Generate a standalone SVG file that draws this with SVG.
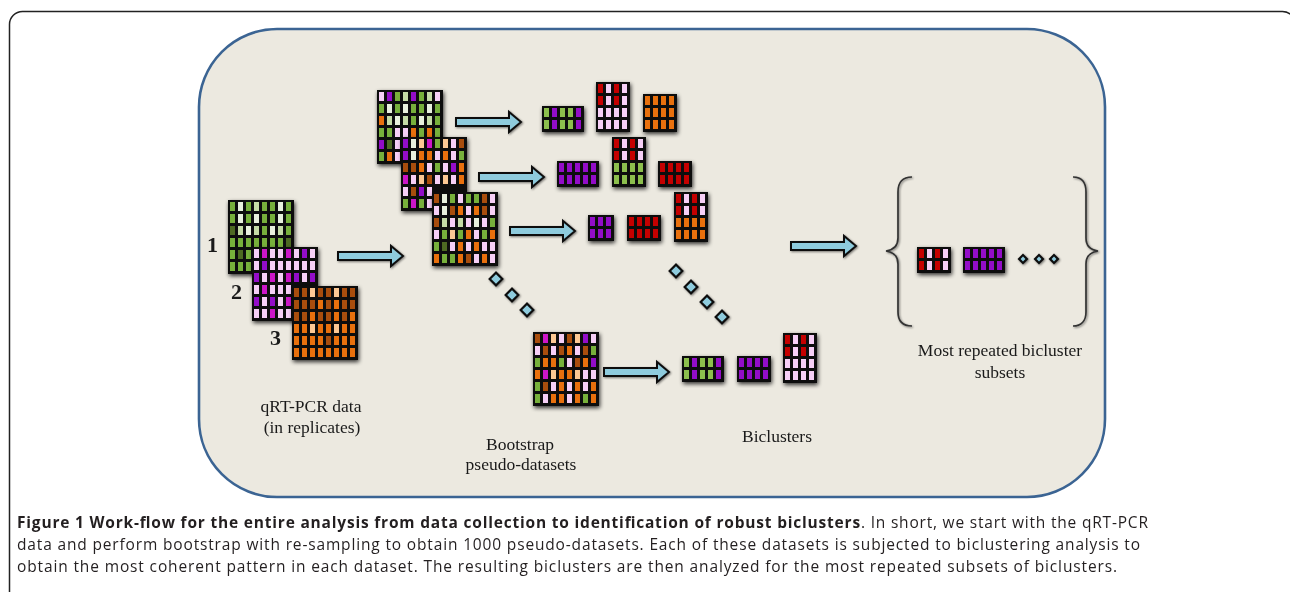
<svg xmlns="http://www.w3.org/2000/svg" xmlns:xlink="http://www.w3.org/1999/xlink" width="1290" height="592" viewBox="0 0 1290 592">
<style>
.bg{fill:#111}
.lbl{font-family:"Liberation Serif","Times New Roman",serif;font-size:17.5px;fill:#1a1a1a;text-anchor:middle}
.num{font-family:"Liberation Serif","Times New Roman",serif;font-size:22px;font-weight:bold;fill:#1a1a1a}
.cap{font-family:"Open Sans","Liberation Sans",sans-serif;font-size:15.5px;fill:#231f20}
.arr{fill:#8ecbdd;stroke:#111;stroke-width:2}
.brace{fill:none;stroke:#333;stroke-width:1.7}
.dm{fill:#8ecbdd;stroke:#111;stroke-width:2.2}
</style>
<defs>
<filter id="sh" x="-20%" y="-20%" width="140%" height="140%">
<feGaussianBlur in="SourceAlpha" stdDeviation="2"/>
<feOffset dx="1" dy="1.5"/>
<feComponentTransfer><feFuncA type="linear" slope="0.8"/></feComponentTransfer>
<feMerge><feMergeNode/><feMergeNode in="SourceGraphic"/></feMerge>
</filter>
<filter id="sh2" x="-30%" y="-30%" width="160%" height="160%">
<feGaussianBlur in="SourceAlpha" stdDeviation="1.2"/>
<feOffset dx="1" dy="1"/>
<feComponentTransfer><feFuncA type="linear" slope="0.5"/></feComponentTransfer>
<feMerge><feMergeNode/><feMergeNode in="SourceGraphic"/></feMerge>
</filter>
<rect id="g" width="5" height="9" fill="#77b03a"/>
<rect id="w" width="5" height="9" fill="#e8f0dc"/>
<rect id="l" width="5" height="9" fill="#c5dca6"/>
<rect id="d" width="5" height="9" fill="#4d6b22"/>
<rect id="h" width="5" height="9" fill="#8cbf4e"/>
<rect id="p" width="5" height="9" fill="#f6cff6"/>
<rect id="m" width="5" height="9" fill="#cc14c8"/>
<rect id="u" width="5" height="9" fill="#9308c8"/>
<rect id="b" width="5" height="9" fill="#a84d0a"/>
<rect id="o" width="5" height="9" fill="#e8700e"/>
<rect id="e" width="5" height="9" fill="#fcc894"/>
<rect id="r" width="5" height="9" fill="#c40000"/>
<path id="arr" d="M0,-4 H53 V-10 L65,0 L53,10 V4 H0 Z"/>
<rect id="dia" x="-4.5" y="-4.5" width="9" height="9" transform="rotate(45)"/>
<rect id="dot" x="-2.8" y="-2.8" width="5.6" height="5.6" transform="rotate(45)"/>
</defs>

<rect x="9.5" y="11.5" width="1286" height="640" rx="13" fill="#fff" stroke="#222" stroke-width="1.5"/>
<rect id="panel" x="199" y="29" width="906" height="468" rx="78" fill="#ece9e0" stroke="#3b6493" stroke-width="2.6"/>

<!-- qRT-PCR replicate matrices -->
<g id="m1" filter="url(#sh)" transform="translate(228,200)">
<rect class="bg" width="66" height="74"/>
<use href="#g" x="2" y="2"/><use href="#w" x="10" y="2"/><use href="#g" x="18" y="2"/><use href="#l" x="26" y="2"/><use href="#g" x="34" y="2"/><use href="#g" x="42" y="2"/><use href="#w" x="50" y="2"/><use href="#g" x="58" y="2"/>
<use href="#g" x="2" y="14"/><use href="#w" x="10" y="14"/><use href="#g" x="18" y="14"/><use href="#w" x="26" y="14"/><use href="#g" x="34" y="14"/><use href="#g" x="42" y="14"/><use href="#w" x="50" y="14"/><use href="#g" x="58" y="14"/>
<use href="#d" x="2" y="26"/><use href="#l" x="10" y="26"/><use href="#w" x="18" y="26"/><use href="#l" x="26" y="26"/><use href="#g" x="34" y="26"/><use href="#w" x="42" y="26"/><use href="#l" x="50" y="26"/><use href="#g" x="58" y="26"/>
<use href="#g" x="2" y="38"/><use href="#g" x="10" y="38"/><use href="#g" x="18" y="38"/><use href="#g" x="26" y="38"/><use href="#g" x="34" y="38"/><use href="#g" x="42" y="38"/><use href="#g" x="50" y="38"/><use href="#d" x="58" y="38"/>
<use href="#g" x="2" y="50"/><use href="#d" x="10" y="50"/><use href="#g" x="18" y="50"/>
<use href="#g" x="2" y="62"/><use href="#g" x="10" y="62"/><use href="#g" x="18" y="62"/>
</g>
<g id="m2" filter="url(#sh)" transform="translate(252,247)">
<rect class="bg" width="66" height="74"/>
<use href="#p" x="2" y="2"/><use href="#m" x="10" y="2"/><use href="#p" x="18" y="2"/><use href="#p" x="26" y="2"/><use href="#m" x="34" y="2"/><use href="#p" x="42" y="2"/><use href="#u" x="50" y="2"/><use href="#p" x="58" y="2"/>
<use href="#p" x="2" y="14"/><use href="#u" x="10" y="14"/><use href="#p" x="18" y="14"/><use href="#p" x="26" y="14"/><use href="#p" x="34" y="14"/><use href="#p" x="42" y="14"/><use href="#p" x="50" y="14"/><use href="#p" x="58" y="14"/>
<use href="#u" x="2" y="26"/><use href="#p" x="10" y="26"/><use href="#m" x="18" y="26"/><use href="#p" x="26" y="26"/><use href="#m" x="34" y="26"/><use href="#u" x="42" y="26"/><use href="#p" x="50" y="26"/><use href="#u" x="58" y="26"/>
<use href="#p" x="2" y="38"/><use href="#m" x="10" y="38"/><use href="#p" x="18" y="38"/><use href="#p" x="26" y="38"/><use href="#p" x="34" y="38"/>
<use href="#u" x="2" y="50"/><use href="#p" x="10" y="50"/><use href="#u" x="18" y="50"/><use href="#p" x="26" y="50"/><use href="#m" x="34" y="50"/>
<use href="#p" x="2" y="62"/><use href="#p" x="10" y="62"/><use href="#m" x="18" y="62"/><use href="#p" x="26" y="62"/><use href="#p" x="34" y="62"/>
</g>
<g id="m3" filter="url(#sh)" transform="translate(292,286)">
<rect class="bg" width="66" height="74"/>
<use href="#b" x="2" y="2"/><use href="#b" x="10" y="2"/><use href="#e" x="18" y="2"/><use href="#b" x="26" y="2"/><use href="#b" x="34" y="2"/><use href="#e" x="42" y="2"/><use href="#b" x="50" y="2"/><use href="#b" x="58" y="2"/>
<use href="#b" x="2" y="14"/><use href="#b" x="10" y="14"/><use href="#b" x="18" y="14"/><use href="#o" x="26" y="14"/><use href="#b" x="34" y="14"/><use href="#o" x="42" y="14"/><use href="#b" x="50" y="14"/><use href="#b" x="58" y="14"/>
<use href="#b" x="2" y="26"/><use href="#b" x="10" y="26"/><use href="#o" x="18" y="26"/><use href="#b" x="26" y="26"/><use href="#b" x="34" y="26"/><use href="#o" x="42" y="26"/><use href="#b" x="50" y="26"/><use href="#o" x="58" y="26"/>
<use href="#o" x="2" y="38"/><use href="#o" x="10" y="38"/><use href="#e" x="18" y="38"/><use href="#o" x="26" y="38"/><use href="#o" x="34" y="38"/><use href="#e" x="42" y="38"/><use href="#o" x="50" y="38"/><use href="#o" x="58" y="38"/>
<use href="#o" x="2" y="50"/><use href="#o" x="10" y="50"/><use href="#o" x="18" y="50"/><use href="#o" x="26" y="50"/><use href="#b" x="34" y="50"/><use href="#o" x="42" y="50"/><use href="#o" x="50" y="50"/><use href="#o" x="58" y="50"/>
<use href="#o" x="2" y="62"/><use href="#o" x="10" y="62"/><use href="#o" x="18" y="62"/><use href="#o" x="26" y="62"/><use href="#o" x="34" y="62"/><use href="#o" x="42" y="62"/><use href="#o" x="50" y="62"/><use href="#o" x="58" y="62"/>
</g>

<!-- bootstrap pseudo-datasets -->
<g id="b1" filter="url(#sh)" transform="translate(377,90)">
<rect class="bg" width="66" height="74"/>
<use href="#p" x="2" y="2"/><use href="#u" x="10" y="2"/><use href="#g" x="18" y="2"/><use href="#l" x="26" y="2"/><use href="#u" x="34" y="2"/><use href="#g" x="42" y="2"/><use href="#l" x="50" y="2"/><use href="#p" x="58" y="2"/>
<use href="#g" x="2" y="14"/><use href="#w" x="10" y="14"/><use href="#g" x="18" y="14"/><use href="#w" x="26" y="14"/><use href="#g" x="34" y="14"/><use href="#g" x="42" y="14"/><use href="#w" x="50" y="14"/><use href="#g" x="58" y="14"/>
<use href="#o" x="2" y="26"/><use href="#l" x="10" y="26"/><use href="#w" x="18" y="26"/><use href="#l" x="26" y="26"/><use href="#g" x="34" y="26"/><use href="#w" x="42" y="26"/><use href="#l" x="50" y="26"/><use href="#g" x="58" y="26"/>
<use href="#g" x="2" y="38"/><use href="#g" x="10" y="38"/><use href="#p" x="18" y="38"/><use href="#p" x="26" y="38"/><use href="#o" x="34" y="38"/><use href="#g" x="42" y="38"/><use href="#o" x="50" y="38"/><use href="#g" x="58" y="38"/>
<use href="#u" x="2" y="50"/><use href="#d" x="10" y="50"/><use href="#p" x="18" y="50"/>
<use href="#g" x="2" y="62"/><use href="#o" x="10" y="62"/><use href="#p" x="18" y="62"/>
</g>
<g id="b2" filter="url(#sh)" transform="translate(401,137)">
<rect class="bg" width="66" height="74"/>
<use href="#u" x="2" y="2"/><use href="#w" x="10" y="2"/><use href="#e" x="18" y="2"/><use href="#m" x="26" y="2"/><use href="#g" x="34" y="2"/><use href="#e" x="42" y="2"/><use href="#p" x="50" y="2"/><use href="#b" x="58" y="2"/>
<use href="#u" x="2" y="14"/><use href="#w" x="10" y="14"/><use href="#o" x="18" y="14"/><use href="#o" x="26" y="14"/><use href="#p" x="34" y="14"/><use href="#o" x="42" y="14"/><use href="#p" x="50" y="14"/><use href="#g" x="58" y="14"/>
<use href="#b" x="2" y="26"/><use href="#b" x="10" y="26"/><use href="#o" x="18" y="26"/><use href="#p" x="26" y="26"/><use href="#g" x="34" y="26"/><use href="#p" x="42" y="26"/><use href="#u" x="50" y="26"/><use href="#o" x="58" y="26"/>
<use href="#m" x="2" y="38"/><use href="#p" x="10" y="38"/><use href="#e" x="18" y="38"/><use href="#b" x="26" y="38"/><use href="#p" x="34" y="38"/><use href="#e" x="42" y="38"/><use href="#p" x="50" y="38"/><use href="#o" x="58" y="38"/>
<use href="#p" x="2" y="50"/><use href="#b" x="10" y="50"/><use href="#u" x="18" y="50"/><use href="#p" x="26" y="50"/>
<use href="#g" x="2" y="62"/><use href="#m" x="10" y="62"/><use href="#g" x="18" y="62"/><use href="#p" x="26" y="62"/>
</g>
<g id="b3" filter="url(#sh)" transform="translate(432,192)">
<rect class="bg" width="66" height="74"/>
<use href="#b" x="2" y="2"/><use href="#w" x="10" y="2"/><use href="#g" x="18" y="2"/><use href="#p" x="26" y="2"/><use href="#g" x="34" y="2"/><use href="#g" x="42" y="2"/><use href="#b" x="50" y="2"/><use href="#p" x="58" y="2"/>
<use href="#p" x="2" y="14"/><use href="#w" x="10" y="14"/><use href="#b" x="18" y="14"/><use href="#o" x="26" y="14"/><use href="#p" x="34" y="14"/><use href="#o" x="42" y="14"/><use href="#b" x="50" y="14"/><use href="#p" x="58" y="14"/>
<use href="#b" x="2" y="26"/><use href="#l" x="10" y="26"/><use href="#p" x="18" y="26"/><use href="#l" x="26" y="26"/><use href="#p" x="34" y="26"/><use href="#w" x="42" y="26"/><use href="#p" x="50" y="26"/><use href="#g" x="58" y="26"/>
<use href="#p" x="2" y="38"/><use href="#g" x="10" y="38"/><use href="#e" x="18" y="38"/><use href="#g" x="26" y="38"/><use href="#o" x="34" y="38"/><use href="#p" x="42" y="38"/><use href="#g" x="50" y="38"/><use href="#o" x="58" y="38"/>
<use href="#g" x="2" y="50"/><use href="#d" x="10" y="50"/><use href="#p" x="18" y="50"/><use href="#o" x="26" y="50"/><use href="#p" x="34" y="50"/><use href="#o" x="42" y="50"/><use href="#p" x="50" y="50"/><use href="#p" x="58" y="50"/>
<use href="#o" x="2" y="62"/><use href="#g" x="10" y="62"/><use href="#g" x="18" y="62"/><use href="#o" x="26" y="62"/><use href="#b" x="34" y="62"/><use href="#p" x="42" y="62"/><use href="#o" x="50" y="62"/><use href="#p" x="58" y="62"/>
</g>
<g id="b4" filter="url(#sh)" transform="translate(533,332)">
<rect class="bg" width="66" height="74"/>
<use href="#b" x="2" y="2"/><use href="#m" x="10" y="2"/><use href="#e" x="18" y="2"/><use href="#p" x="26" y="2"/><use href="#b" x="34" y="2"/><use href="#e" x="42" y="2"/><use href="#u" x="50" y="2"/><use href="#p" x="58" y="2"/>
<use href="#p" x="2" y="14"/><use href="#b" x="10" y="14"/><use href="#p" x="18" y="14"/><use href="#b" x="26" y="14"/><use href="#o" x="34" y="14"/><use href="#p" x="42" y="14"/><use href="#b" x="50" y="14"/><use href="#g" x="58" y="14"/>
<use href="#g" x="2" y="26"/><use href="#o" x="10" y="26"/><use href="#o" x="18" y="26"/><use href="#g" x="26" y="26"/><use href="#p" x="34" y="26"/><use href="#b" x="42" y="26"/><use href="#o" x="50" y="26"/><use href="#u" x="58" y="26"/>
<use href="#o" x="2" y="38"/><use href="#m" x="10" y="38"/><use href="#e" x="18" y="38"/><use href="#o" x="26" y="38"/><use href="#o" x="34" y="38"/><use href="#e" x="42" y="38"/><use href="#p" x="50" y="38"/><use href="#p" x="58" y="38"/>
<use href="#g" x="2" y="50"/><use href="#b" x="10" y="50"/><use href="#p" x="18" y="50"/><use href="#o" x="26" y="50"/><use href="#p" x="34" y="50"/><use href="#o" x="42" y="50"/><use href="#p" x="50" y="50"/><use href="#o" x="58" y="50"/>
<use href="#g" x="2" y="62"/><use href="#p" x="10" y="62"/><use href="#o" x="18" y="62"/><use href="#o" x="26" y="62"/><use href="#p" x="34" y="62"/><use href="#o" x="42" y="62"/><use href="#g" x="50" y="62"/><use href="#o" x="58" y="62"/>
</g>

<!-- biclusters -->
<g id="bc1a" filter="url(#sh)" transform="translate(542,106)">
<rect class="bg" width="42" height="26"/>
<use href="#h" x="2" y="2"/><use href="#u" x="10" y="2"/><use href="#h" x="18" y="2"/><use href="#h" x="26" y="2"/><use href="#u" x="34" y="2"/>
<use href="#h" x="2" y="14"/><use href="#u" x="10" y="14"/><use href="#h" x="18" y="14"/><use href="#h" x="26" y="14"/><use href="#u" x="34" y="14"/>
</g>
<g id="bc1b" filter="url(#sh)" transform="translate(596,82)">
<rect class="bg" width="34" height="50"/>
<use href="#r" x="2" y="2"/><use href="#p" x="10" y="2"/><use href="#r" x="18" y="2"/><use href="#p" x="26" y="2"/>
<use href="#r" x="2" y="14"/><use href="#p" x="10" y="14"/><use href="#r" x="18" y="14"/><use href="#p" x="26" y="14"/>
<use href="#p" x="2" y="26"/><use href="#p" x="10" y="26"/><use href="#p" x="18" y="26"/><use href="#p" x="26" y="26"/>
<use href="#p" x="2" y="38"/><use href="#p" x="10" y="38"/><use href="#p" x="18" y="38"/><use href="#p" x="26" y="38"/>
</g>
<g id="bc1c" filter="url(#sh)" transform="translate(643,94)">
<rect class="bg" width="34" height="38"/>
<use href="#o" x="2" y="2"/><use href="#o" x="10" y="2"/><use href="#o" x="18" y="2"/><use href="#o" x="26" y="2"/>
<use href="#o" x="2" y="14"/><use href="#o" x="10" y="14"/><use href="#o" x="18" y="14"/><use href="#o" x="26" y="14"/>
<use href="#o" x="2" y="26"/><use href="#o" x="10" y="26"/><use href="#o" x="18" y="26"/><use href="#o" x="26" y="26"/>
</g>
<g id="bc2a" filter="url(#sh)" transform="translate(557,161)">
<rect class="bg" width="42" height="26"/>
<use href="#u" x="2" y="2"/><use href="#u" x="10" y="2"/><use href="#u" x="18" y="2"/><use href="#u" x="26" y="2"/><use href="#u" x="34" y="2"/>
<use href="#u" x="2" y="14"/><use href="#u" x="10" y="14"/><use href="#u" x="18" y="14"/><use href="#u" x="26" y="14"/><use href="#u" x="34" y="14"/>
</g>
<g id="bc2b" filter="url(#sh)" transform="translate(612,137)">
<rect class="bg" width="34" height="50"/>
<use href="#r" x="2" y="2"/><use href="#p" x="10" y="2"/><use href="#r" x="18" y="2"/><use href="#p" x="26" y="2"/>
<use href="#r" x="2" y="14"/><use href="#p" x="10" y="14"/><use href="#r" x="18" y="14"/><use href="#p" x="26" y="14"/>
<use href="#h" x="2" y="26"/><use href="#h" x="10" y="26"/><use href="#h" x="18" y="26"/><use href="#h" x="26" y="26"/>
<use href="#h" x="2" y="38"/><use href="#h" x="10" y="38"/><use href="#h" x="18" y="38"/><use href="#h" x="26" y="38"/>
</g>
<g id="bc2c" filter="url(#sh)" transform="translate(658,161)">
<rect class="bg" width="34" height="26"/>
<use href="#r" x="2" y="2"/><use href="#r" x="10" y="2"/><use href="#r" x="18" y="2"/><use href="#r" x="26" y="2"/>
<use href="#r" x="2" y="14"/><use href="#r" x="10" y="14"/><use href="#r" x="18" y="14"/><use href="#r" x="26" y="14"/>
</g>
<g id="bc3a" filter="url(#sh)" transform="translate(588,215)">
<rect class="bg" width="26" height="26"/>
<use href="#u" x="2" y="2"/><use href="#u" x="10" y="2"/><use href="#u" x="18" y="2"/>
<use href="#u" x="2" y="14"/><use href="#u" x="10" y="14"/><use href="#u" x="18" y="14"/>
</g>
<g id="bc3b" filter="url(#sh)" transform="translate(627,215)">
<rect class="bg" width="34" height="26"/>
<use href="#r" x="2" y="2"/><use href="#r" x="10" y="2"/><use href="#r" x="18" y="2"/><use href="#r" x="26" y="2"/>
<use href="#r" x="2" y="14"/><use href="#r" x="10" y="14"/><use href="#r" x="18" y="14"/><use href="#r" x="26" y="14"/>
</g>
<g id="bc3c" filter="url(#sh)" transform="translate(674,192)">
<rect class="bg" width="34" height="50"/>
<use href="#r" x="2" y="2"/><use href="#p" x="10" y="2"/><use href="#r" x="18" y="2"/><use href="#p" x="26" y="2"/>
<use href="#r" x="2" y="14"/><use href="#p" x="10" y="14"/><use href="#r" x="18" y="14"/><use href="#p" x="26" y="14"/>
<use href="#o" x="2" y="26"/><use href="#o" x="10" y="26"/><use href="#o" x="18" y="26"/><use href="#o" x="26" y="26"/>
<use href="#o" x="2" y="38"/><use href="#o" x="10" y="38"/><use href="#o" x="18" y="38"/><use href="#o" x="26" y="38"/>
</g>
<g id="bc4a" filter="url(#sh)" transform="translate(682,356)">
<rect class="bg" width="42" height="26"/>
<use href="#h" x="2" y="2"/><use href="#u" x="10" y="2"/><use href="#h" x="18" y="2"/><use href="#h" x="26" y="2"/><use href="#u" x="34" y="2"/>
<use href="#h" x="2" y="14"/><use href="#u" x="10" y="14"/><use href="#h" x="18" y="14"/><use href="#h" x="26" y="14"/><use href="#u" x="34" y="14"/>
</g>
<g id="bc4b" filter="url(#sh)" transform="translate(737,356)">
<rect class="bg" width="34" height="26"/>
<use href="#u" x="2" y="2"/><use href="#u" x="10" y="2"/><use href="#u" x="18" y="2"/><use href="#u" x="26" y="2"/>
<use href="#u" x="2" y="14"/><use href="#u" x="10" y="14"/><use href="#u" x="18" y="14"/><use href="#u" x="26" y="14"/>
</g>
<g id="bc4c" filter="url(#sh)" transform="translate(783,333)">
<rect class="bg" width="34" height="50"/>
<use href="#r" x="2" y="2"/><use href="#p" x="10" y="2"/><use href="#r" x="18" y="2"/><use href="#p" x="26" y="2"/>
<use href="#r" x="2" y="14"/><use href="#p" x="10" y="14"/><use href="#r" x="18" y="14"/><use href="#p" x="26" y="14"/>
<use href="#p" x="2" y="26"/><use href="#p" x="10" y="26"/><use href="#p" x="18" y="26"/><use href="#p" x="26" y="26"/>
<use href="#p" x="2" y="38"/><use href="#p" x="10" y="38"/><use href="#p" x="18" y="38"/><use href="#p" x="26" y="38"/>
</g>

<!-- most repeated subsets -->
<g id="s1" filter="url(#sh)" transform="translate(917,247)">
<rect class="bg" width="34" height="26"/>
<use href="#r" x="2" y="2"/><use href="#p" x="10" y="2"/><use href="#r" x="18" y="2"/><use href="#p" x="26" y="2"/>
<use href="#r" x="2" y="14"/><use href="#p" x="10" y="14"/><use href="#r" x="18" y="14"/><use href="#p" x="26" y="14"/>
</g>
<g id="s2" filter="url(#sh)" transform="translate(963,247)">
<rect class="bg" width="42" height="26"/>
<use href="#u" x="2" y="2"/><use href="#u" x="10" y="2"/><use href="#u" x="18" y="2"/><use href="#u" x="26" y="2"/><use href="#u" x="34" y="2"/>
<use href="#u" x="2" y="14"/><use href="#u" x="10" y="14"/><use href="#u" x="18" y="14"/><use href="#u" x="26" y="14"/><use href="#u" x="34" y="14"/>
</g>
<g id="braces" filter="url(#sh2)">
<path class="brace" d="M912,177 C903,177 898,182 898,192 V238 C898,246 893,250 886,251 C893,252 898,256 898,264 V312 C898,321 903,326 912,326"/>
<path class="brace" d="M1073,177 C1081,177 1086,182 1086,192 V238 C1086,246 1091,250 1098,251 C1091,252 1086,256 1086,264 V312 C1086,321 1081,326 1073,326"/>
</g>

<!-- connectors -->
<g id="connectors" class="arr" filter="url(#sh2)">
<use href="#arr" transform="translate(338,256)"/>
<use href="#arr" transform="translate(456,122)"/>
<use href="#arr" transform="translate(479,177)"/>
<use href="#arr" transform="translate(510,231)"/>
<use href="#arr" transform="translate(604,372)"/>
<use href="#arr" transform="translate(791,246)"/>
</g>
<g id="ellipses" class="dm" filter="url(#sh2)">
<use href="#dia" transform="translate(496,279)"/>
<use href="#dia" transform="translate(512,295)"/>
<use href="#dia" transform="translate(527,310)"/>
<use href="#dia" transform="translate(676,271)"/>
<use href="#dia" transform="translate(691,287)"/>
<use href="#dia" transform="translate(707,302)"/>
<use href="#dia" transform="translate(722,317)"/>
<use href="#dot" transform="translate(1023,259)"/>
<use href="#dot" transform="translate(1039,259)"/>
<use href="#dot" transform="translate(1054,259)"/>
</g>

<!-- labels -->
<g id="labels">
<text class="num" x="207" y="252">1</text>
<text class="num" x="231" y="299">2</text>
<text class="num" x="270" y="345">3</text>
<text class="lbl" x="311" y="412">qRT-PCR data</text>
<text class="lbl" x="312" y="433">(in replicates)</text>
<text class="lbl" x="520" y="450">Bootstrap</text>
<text class="lbl" x="521" y="470">pseudo-datasets</text>
<text class="lbl" x="777" y="442">Biclusters</text>
<text class="lbl" x="1000" y="356">Most repeated bicluster</text>
<text class="lbl" x="1000" y="378">subsets</text>
</g>

<g id="caption">
<text class="cap" x="17" y="528" textLength="1131"><tspan font-weight="bold">Figure 1 Work-flow for the entire analysis from data collection to identification of robust biclusters</tspan>. In short, we start with the qRT-PCR</text>
<text class="cap" x="17" y="550" textLength="1123">data and perform bootstrap with re-sampling to obtain 1000 pseudo-datasets. Each of these datasets is subjected to biclustering analysis to</text>
<text class="cap" x="17" y="572" textLength="1100">obtain the most coherent pattern in each dataset. The resulting biclusters are then analyzed for the most repeated subsets of biclusters.</text>
</g>
</svg>
